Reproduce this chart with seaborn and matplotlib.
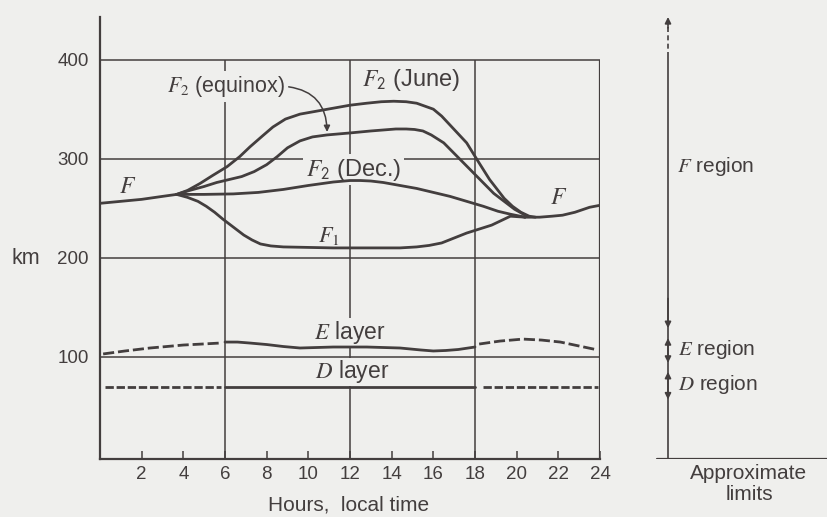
import matplotlib.pyplot as plt
import seaborn as sns

sns.set_theme(style="white")
plt.rcParams['font.family'] = ['Liberation Sans', 'DejaVu Sans']
plt.rcParams['mathtext.fontset'] = 'stix'

paper = '#efefed'
ink = '#433e3e'

# --- dados (horas locais, altura em km) ---
f_night_h = [0, 1.0, 2.0, 3.0, 3.68]
f_night_km = [255, 257, 259, 262, 264]

f2_june_h = [3.68, 4.2, 4.8, 5.4, 6.1, 6.7, 7.2, 7.8, 8.3, 8.9, 9.6, 10.4, 11.2, 12.0, 12.8,
             13.5, 14.1, 14.7, 15.2, 15.6, 16.0, 16.4, 16.8, 17.2, 17.6, 18.1, 18.7, 19.4,
             19.8, 20.2, 20.6, 20.9]
f2_june_km = [264, 268, 275, 283, 292, 302, 312, 323, 332, 340, 345, 348, 351, 354, 356,
              357.5, 358, 357.5, 356, 353, 350, 343, 334, 325, 316, 299, 279, 260,
              252, 246, 242, 241]

f2_equinox_h = [3.68, 4.3, 5.0, 5.6, 6.2, 6.8, 7.4, 8.0, 8.5, 9.0, 9.6, 10.2, 10.9, 12.0,
                13.0, 13.6, 14.2, 14.7, 15.1, 15.5, 15.9, 16.5, 17.3, 18.1, 18.9, 19.4,
                19.9, 20.5]
f2_equinox_km = [264, 268, 272, 276, 279, 282, 287, 294, 302, 311, 318, 322, 324, 326,
                 328, 329, 330, 330, 329.5, 328, 324, 316, 299, 282, 265, 257,
                 249, 242]

f2_dec_h = [3.68, 5.0, 6.4, 7.6, 8.8, 10.0, 11.2, 12.0, 12.5, 13.0, 13.6, 14.4, 15.2,
            16.0, 16.8, 17.6, 18.4, 19.1, 19.7, 20.4]
f2_dec_km = [264, 264, 264.5, 266, 269, 273, 276.5, 278, 278, 277.5, 276, 273, 270,
             266, 262, 257, 252, 247, 244, 241]

f1_h = [3.68, 4.2, 4.7, 5.1, 5.5, 5.9, 6.4, 6.9, 7.3, 7.7, 8.2, 8.8, 10.0, 11.2, 12.5,
        13.5, 14.4, 15.2, 15.8, 16.4, 17.0, 17.6, 18.2, 18.8, 19.3, 19.7, 20.4]
f1_km = [264, 261, 257, 252, 246, 239, 231, 223, 218, 214, 212, 211, 210.5, 210, 210,
         210, 210, 211, 212.5, 215, 220, 225, 229, 233, 238, 242, 241]

f_late_h = [20.4, 21.1, 21.7, 22.2, 22.8, 23.5, 24]
f_late_km = [241, 241, 242, 243, 246, 251, 253]

e_early_h = [0.15, 1.2, 2.4, 3.2, 4.0, 4.9, 5.76]
e_early_km = [103, 106, 109, 110.5, 112, 113, 114]
e_day_h = [6.0, 6.6, 7.2, 8.0, 8.8, 9.6, 10.4, 11.2, 12.0, 12.8, 13.6, 14.4, 15.4, 16.0,
           16.6, 17.2, 18.0]
e_day_km = [115, 115, 114, 112.5, 110.5, 109, 109.5, 110, 110, 110, 109.5, 109, 107, 106,
            106.5, 107.5, 110]
e_late_h = [18.2, 19.2, 20.3, 21.2, 22.1, 23.0, 23.9]
e_late_km = [113, 116, 118, 117, 115, 111, 107]

d_early_h = [0.25, 5.8]
d_early_km = [70, 70]
d_day_h = [6.0, 18.0]
d_day_km = [70, 70]
d_late_h = [18.4, 23.9]
d_late_km = [70, 70]

grid_km = [100, 200, 300, 400]
grid_h = [6, 12, 18]
tick_h = [2, 4, 6, 8, 10, 12, 14, 16, 18, 20, 22, 24]

region_f_low = 129
region_e = (94, 119)
region_d = (57, 85)

# --- figura ---
fig = plt.figure(figsize=(8.27, 5.17), dpi=100, facecolor=paper)
ax = fig.add_axes([100 / 827, 58 / 517, 500 / 827, 442 / 517])
ax.set_facecolor(paper)
ax.set_xlim(0, 24)
ax.set_ylim(-3, 443)

ax.hlines(grid_km, 0, 24, color=ink, lw=1.1, zorder=0.5)
ax.vlines(grid_h, -3, 400, color=ink, lw=1.1, zorder=0.5)
ax.vlines(24, -3, 400, color=ink, lw=1.6, zorder=0.5)

for s in ['top', 'right']:
    ax.spines[s].set_visible(False)
for s in ['left', 'bottom']:
    ax.spines[s].set_color(ink)
    ax.spines[s].set_linewidth(1.6)

solid = dict(color=ink, lw=2.0, estimator=None, sort=False, zorder=2)
for h, km in [(f_night_h, f_night_km), (f2_june_h, f2_june_km), (f2_equinox_h, f2_equinox_km),
              (f2_dec_h, f2_dec_km), (f1_h, f1_km), (f_late_h, f_late_km),
              (e_day_h, e_day_km), (d_day_h, d_day_km)]:
    sns.lineplot(x=h, y=km, ax=ax, **solid)

for h, km in [(e_early_h, e_early_km), (e_late_h, e_late_km)]:
    sns.lineplot(x=h, y=km, ax=ax, linestyle=(0, (4, 1.4)), **solid)
for h, km in [(d_early_h, d_early_km), (d_late_h, d_late_km)]:
    sns.lineplot(x=h, y=km, ax=ax, linestyle=(0, (3, 1.0)), **solid)

ax.set_xticks(tick_h)
ax.set_xticklabels([str(t) for t in tick_h])
ax.set_yticks(grid_km)
ax.set_yticklabels([str(k) for k in grid_km])
ax.tick_params(axis='x', direction='in', length=6, width=1.1, color=ink, pad=5,
               labelsize=13.5, labelcolor=ink, bottom=True)
ax.tick_params(axis='y', length=0, pad=8, labelsize=13.5, labelcolor=ink)

lab = dict(color=ink, zorder=1, bbox=dict(facecolor=paper, edgecolor='none', pad=2))
small = dict(color=ink, zorder=1, bbox=dict(facecolor=paper, edgecolor='none', pad=0.2))
ax.text(1.34, 271, '$F$', fontsize=17, ha='center', va='center', **lab)
ax.text(12.6, 379, r'$F_{\mathsf{2}}$ (June)', fontsize=17, ha='left', va='center', **lab)
ax.text(9.9, 289, r'$F_{\mathsf{2}}$ (Dec.)', fontsize=17, ha='left', va='center', **lab)
ax.text(11.0, 222, '$F_1$', fontsize=16, ha='center', va='center', **lab)
ax.text(22.0, 260, '$F$', fontsize=17, ha='center', va='center', **lab)
ax.text(12.0, 125, '$E$ layer', fontsize=16.5, ha='center', va='center', **small)
ax.text(12.1, 85, '$D$ layer', fontsize=16.5, ha='center', va='center', **small)
ax.annotate('$F_2$ (equinox)', xy=(10.9, 327), xytext=(3.2, 373), fontsize=15.5,
            ha='left', va='center', color=ink, zorder=1,
            bbox=dict(facecolor=paper, edgecolor='none', pad=2),
            arrowprops=dict(arrowstyle='-|>', color=ink, lw=1.1, mutation_scale=9,
                            relpos=(1.0, 0.5), shrinkA=1, shrinkB=0,
                            connectionstyle='arc3,rad=-0.45'))

fig.text(26 / 827, 1 - 258 / 517, 'km', fontsize=15.5, color=ink, ha='center', va='center')
fig.text(349 / 827, 1 - 505 / 517, 'Hours,  local time', fontsize=15, color=ink,
         ha='center', va='center')

# --- painel de limites aproximados ---
ax2 = fig.add_axes([640 / 827, 58 / 517, 187 / 827, 442 / 517])
ax2.set_xlim(0, 187)
ax2.set_ylim(-3, 443)
ax2.axis('off')
xl = 28
ax2.plot([17, 187], [-3, -3], color=ink, lw=1.6)
ax2.vlines(xl, -3, 403, color=ink, lw=1.2)
ax2.vlines(xl, 403, 436, color=ink, lw=1.2, linestyles=(0, (3, 2)))
arrow = dict(color=ink, lw=1.2, mutation_scale=9, shrinkA=0, shrinkB=0)
ax2.annotate('', xy=(xl, 443), xytext=(xl, 432), arrowprops=dict(arrowstyle='-|>', **arrow))
ax2.annotate('', xy=(xl, region_f_low), xytext=(xl, region_f_low + 30),
             arrowprops=dict(arrowstyle='-|>', **arrow))
ax2.annotate('', xy=(xl, region_e[0]), xytext=(xl, region_e[1]),
             arrowprops=dict(arrowstyle='<|-|>', **arrow))
ax2.annotate('', xy=(xl, region_d[0]), xytext=(xl, region_d[1]),
             arrowprops=dict(arrowstyle='<|-|>', **arrow))
ax2.text(37, 292, '$F$ region', fontsize=15, color=ink, ha='left', va='center')
ax2.text(38, 107, '$E$ region', fontsize=15, color=ink, ha='left', va='center')
ax2.text(38, 72, '$D$ region', fontsize=15, color=ink, ha='left', va='center')
fig.text(749 / 827, 1 - 484 / 517, 'Approximate\nlimits', fontsize=15, color=ink,
         ha='center', va='center', linespacing=1.1)

fig.savefig('out.png', dpi=100, facecolor=paper)
